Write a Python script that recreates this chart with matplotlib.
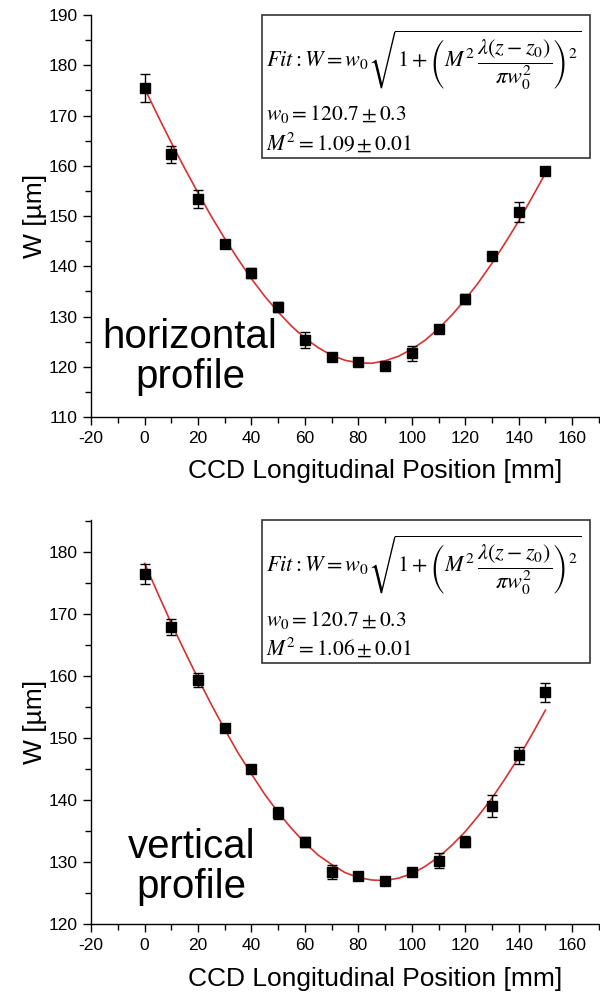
import numpy as np
import matplotlib
matplotlib.use("Agg")
import matplotlib.pyplot as plt
from matplotlib.ticker import MultipleLocator

plt.rcParams['font.family'] = ['Liberation Sans', 'DejaVu Sans']
plt.rcParams['mathtext.fontset'] = 'stix'
plt.rcParams['axes.unicode_minus'] = False

# measured beam width, horizontal profile
z_h = [0, 10, 20, 30, 40, 50, 60, 70, 80, 90, 100, 110, 120, 130, 140, 150]
w_h = [175.5, 162.3, 153.4, 144.5, 138.7, 131.9, 125.3, 122.0, 121.0, 120.1,
       122.7, 127.5, 133.5, 142.1, 150.8, 158.9]
e_h = [2.7, 1.7, 1.7, 0.7, 1.0, 1.0, 1.6, 0.6, 0.5, 0.8, 1.5, 0.8, 1.0, 0.7, 2.0, 0.6]

# fit curve (every 5 mm)
fz_h = list(range(0, 155, 5))
fw_h = [175.4, 169.9, 164.6, 159.5, 154.6, 149.9, 145.5, 141.4, 137.5, 134.0,
        130.9, 128.1, 125.7, 123.8, 122.3, 121.3, 120.8, 120.7, 121.2, 122.1,
        123.5, 125.3, 127.6, 130.3, 133.4, 136.8, 140.6, 144.7, 149.0, 153.7, 158.5]

# vertical profile
z_v = [0, 10, 20, 30, 40, 50, 60, 70, 80, 90, 100, 110, 120, 130, 140, 150]
w_v = [176.5, 167.9, 159.4, 151.6, 145.0, 137.9, 133.2, 128.4, 127.7, 126.9,
       128.4, 130.2, 133.3, 139.0, 147.2, 157.4]
e_v = [1.6, 1.3, 1.1, 0.6, 0.5, 1.0, 0.8, 1.2, 0.6, 0.6, 0.6, 1.2, 0.9, 1.8, 1.3, 1.5]

fz_v = list(range(0, 155, 5))
fw_v = [178.2, 173.3, 168.5, 164.0, 159.6, 155.4, 151.4, 147.6, 144.2, 140.9,
        138.0, 135.4, 133.1, 131.1, 129.6, 128.3, 127.5, 127.1, 127.0, 127.4,
        128.1, 129.3, 130.8, 132.7, 134.9, 137.5, 140.3, 143.5, 146.9, 150.6, 154.5]

fit_eq = r"$Fit:W=w_0\sqrt{1+\left(M^2\,\dfrac{\lambda(z-z_0)}{\pi w_0^2}\right)^2}$"
panels = [
    dict(z=z_h, w=w_h, e=e_h, fz=fz_h, fw=fw_h, ylim=(110, 190), yt=range(110, 191, 10),
         w0=r"$w_0=120.7\pm0.3$", m2=r"$M^2=1.09\pm0.01$", name="horizontal\nprofile",
         name_xy=(17, 122)),
    dict(z=z_v, w=w_v, e=e_v, fz=fz_v, fw=fw_v, ylim=(120, 185.2), yt=range(120, 181, 10),
         w0=r"$w_0=120.7\pm0.3$", m2=r"$M^2=1.06\pm0.01$", name="vertical\nprofile",
         name_xy=(17.5, 129.2)),
]

fig = plt.figure(figsize=(6.0, 10.05), dpi=100)
rects = [[0.152, 0.585, 0.846, 0.400], [0.152, 0.0806, 0.846, 0.402]]

for rect, p in zip(rects, panels):
    ax = fig.add_axes(rect)
    ax.plot(p['fz'], p['fw'], color='#d93030', lw=1.2, zorder=2)
    ax.errorbar(p['z'], p['w'], yerr=p['e'], fmt='s', color='black', ms=6.5,
                ecolor='black', elinewidth=1.0, capsize=3.5, capthick=1.0, zorder=3)
    ax.set_xlim(-20, 170)
    ax.set_ylim(*p['ylim'])
    ax.set_xticks(range(-20, 161, 20))
    ax.set_yticks(list(p['yt']))
    ax.xaxis.set_minor_locator(MultipleLocator(10))
    ax.yaxis.set_minor_locator(MultipleLocator(5))
    for s in ('top', 'right'):
        ax.spines[s].set_visible(False)
    for s in ('left', 'bottom'):
        ax.spines[s].set_linewidth(1.0)
    ax.tick_params(which='major', direction='out', length=6, width=1.0, pad=4)
    ax.tick_params(which='minor', direction='out', length=4, width=1.0)
    for lab in ax.get_xticklabels() + ax.get_yticklabels():
        lab.set_fontsize(12.5)

    ax.text(0.56, -0.135, "CCD Longitudinal Position [mm]", transform=ax.transAxes,
            ha='center', va='center', fontsize=19)
    ax.text(-0.11, 0.5, "W [\u00b5m]", transform=ax.transAxes, rotation=90,
            ha='center', va='center', fontsize=19)
    ax.text(*p['name_xy'], p['name'], ha='center', va='center', fontsize=29,
            linespacing=1.05, zorder=4)

    # equation box
    ax.add_patch(plt.Rectangle((0.337, 0.645), 0.645, 0.355, transform=ax.transAxes,
                               fill=False, ec='#333333', lw=1.2, clip_on=False))
    ax.text(0.345, 0.888, fit_eq, transform=ax.transAxes, ha='left', va='center',
            fontsize=16)
    ax.text(0.345, 0.753, p['w0'], transform=ax.transAxes, ha='left', va='center',
            fontsize=15.5)
    ax.text(0.345, 0.683, p['m2'], transform=ax.transAxes, ha='left', va='center',
            fontsize=15.5)

fig.savefig("out.png", dpi=100)
